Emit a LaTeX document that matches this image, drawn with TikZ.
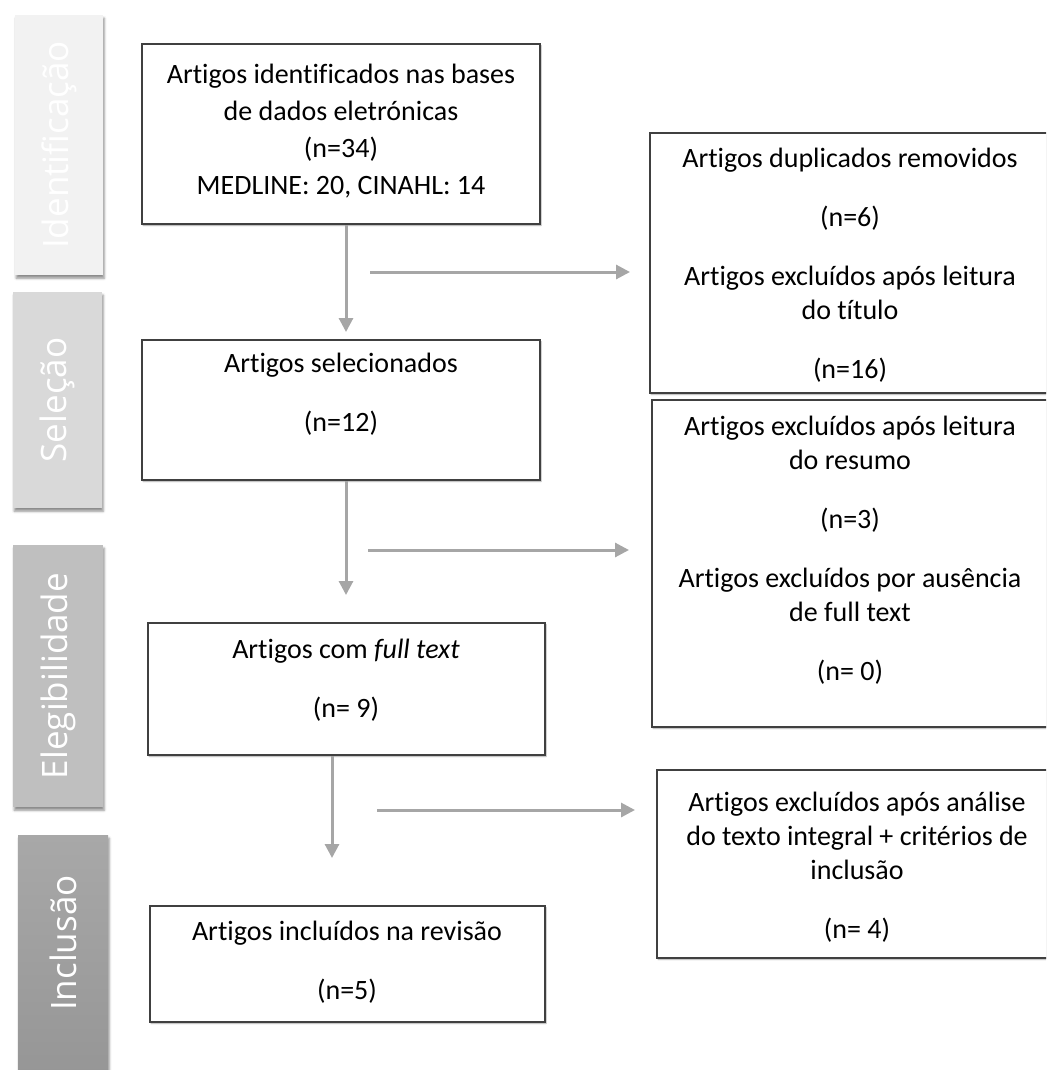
\documentclass[tikz,border=0pt]{standalone}
\usepackage{fontspec}
\setmainfont{Carlito}[Ligatures={NoCommon,NoRequired,NoContextual},Contextuals=NoAlternate]
\newfontfamily\faseFont{Open Sans}
\usepackage{tikz}
\usetikzlibrary{arrows.meta,positioning,shadows.blur}
\definecolor{cFaseA}{RGB}{242,242,242}
\definecolor{cFaseB}{RGB}{217,217,217}
\definecolor{cFaseC}{RGB}{191,191,191}
\definecolor{cFaseD}{RGB}{168,168,168}
\definecolor{cFaseE}{RGB}{150,150,150}
\definecolor{cSeta}{RGB}{166,166,166}
\definecolor{cBorda}{RGB}{64,64,64}
\tikzset{
  fasebox/.style={rectangle,inner sep=0pt,text=white,
                  font=\faseFont\fontsize{17.5}{20}\selectfont,
                  blur shadow={shadow xshift=0.6pt,shadow yshift=-1.6pt,
                               shadow blur radius=1.2pt,shadow opacity=45}},
  caixa/.style={rectangle,draw=cBorda,line width=1pt,fill=white,
                blur shadow={shadow xshift=0.5pt,shadow yshift=-0.8pt,
                             shadow blur radius=0.5pt,shadow opacity=40}},
  texto/.style={align=center,inner sep=0pt,font=\fontsize{14}{17}\selectfont},
  seta/.style={-{Triangle[length=7pt,width=7pt]},line width=1.5pt,color=cSeta}
}

\begin{document}
\begin{tikzpicture}[x=0.5pt,y=-0.5pt]
  \useasboundingbox (0,0) rectangle (1046,1070);
  \clip (0,0) rectangle (1046,1070);

  % Phase labels
  \node[fasebox,fill=cFaseA,minimum width=44pt,minimum height=130pt] (fIdent) at (59,145)
       {\rotatebox{90}{Identificação}};
  \node[fasebox,fill=cFaseB,minimum width=44.5pt,minimum height=108pt] (fSelec) at (57.5,400)
       {\rotatebox{90}{Seleção}};
  \node[fasebox,fill=cFaseC,minimum width=45pt,minimum height=131pt] (fEleg) at (58,676)
       {\rotatebox{90}{Elegibilidade}};
  \node[fasebox,top color=cFaseD,bottom color=cFaseE,minimum width=45pt,minimum height=120pt] (fIncl) at (63,955)
       {\rotatebox{90}{\hspace*{12pt}Inclusão}};

  % Main column
  \node[caixa,minimum width=199pt,minimum height=90pt] (ident) at (341,134) {};
  \node[texto] (identTxt) at (341,131) {Artigos identificados nas bases\\[1.5pt]
       de dados eletrónicas\\[1.5pt] (n=34)\\[1.5pt] MEDLINE: 20, CINAHL: 14};

  \node[caixa,minimum width=199pt,minimum height=70pt] (selec) at (341,410) {};
  \node[texto] (selecTxt) at (341,394) {Artigos selecionados\\[12.5pt] (n=12)};

  \node[caixa,minimum width=198.5pt,minimum height=66pt] (full) at (346.5,689) {};
  \node[texto] (fullTxt) at (346,680) {Artigos com \textit{full text}\\[12.5pt] (n= 9)};

  \node[caixa,minimum width=197.5pt,minimum height=58pt] (incl) at (347.5,964) {};
  \node[texto] (inclTxt) at (347,962) {Artigos incluídos na revisão\\[12.5pt] (n=5)};

  % Exclusion column
  \node[caixa,minimum width=210pt,minimum height=130pt] (dupl) at (860,263) {};
  \node[texto] (duplTxt) at (850,265) {Artigos duplicados removidos\\[12.5pt] (n=6)\\[12.5pt]
       Artigos excluídos após leitura\\ do título\\[12.5pt] (n=16)};

  \node[caixa,minimum width=210pt,minimum height=163.5pt] (resumo) at (862,563.5) {};
  \node[texto] (resumoTxt) at (850,550) {Artigos excluídos após leitura\\ do resumo\\[12.5pt] (n=3)\\[12.5pt]
       Artigos excluídos por ausência\\ de full text\\[12.5pt] (n= 0)};

  \node[caixa,minimum width=210pt,minimum height=94pt] (integral) at (867,864) {};
  \node[texto] (integralTxt) at (857,867) {Artigos excluídos após análise\\ do texto integral + critérios de\\
       inclusão\\[12.5pt] (n= 4)};

  % Arrows
  \coordinate (p1) at (346,332);
  \coordinate (p2) at (346,595);
  \coordinate (p3) at (332,858);
  \draw[seta] (ident.south -| p1) -- (p1);
  \draw[seta] (selec.south -| p2) -- (p2);
  \draw[seta] (full.south -| p3) -- (p3);

  \coordinate (h1a) at (370,272);
  \coordinate (h1b) at (630,272);
  \coordinate (h2a) at (368,550);
  \coordinate (h2b) at (629,550);
  \coordinate (h3a) at (377,810);
  \coordinate (h3b) at (635,810);
  \draw[seta] (h1a) -- (h1b);
  \draw[seta] (h2a) -- (h2b);
  \draw[seta] (h3a) -- (h3b);
\end{tikzpicture}
\end{document}
